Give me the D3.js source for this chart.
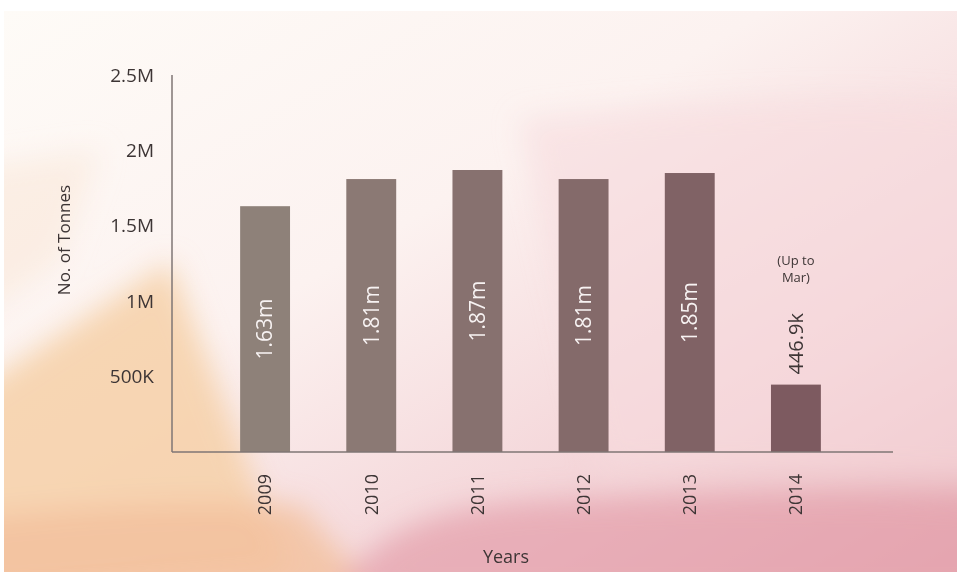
<!DOCTYPE html>
<html>
<head>
<meta charset="utf-8">
<script src="https://cdn.jsdelivr.net/npm/d3@7"></script>
<style>
  body { margin: 0; background: #fff; }
  svg { display: block; }
  text { font-family: "Open Sans", "Noto Sans", sans-serif; }
</style>
</head>
<body>
<svg id="chart"></svg>
<script>
// chart data
var years = ["2009", "2010", "2011", "2012", "2013", "2014"];
var tonnes = [1630000, 1810000, 1870000, 1810000, 1850000, 446900];
var valueLabels = ["1.63m", "1.81m", "1.87m", "1.81m", "1.85m", "446.9k"];
var yTicks = [500000, 1000000, 1500000, 2000000, 2500000];
var yTickLabels = ["500K", "1M", "1.5M", "2M", "2.5M"];
var partialNote = ["(Up to", "Mar)"];

// set the dimensions and margins of the graph
var margin = {top: 75, right: 64, bottom: 120, left: 172},
    width = 957 - margin.left - margin.right,
    height = 572 - margin.top - margin.bottom;

var svg = d3.select("#chart")
    .attr("width", 957)
    .attr("height", 572);

// background wash
var defs = svg.append("defs");
var bg = defs.append("linearGradient").attr("id", "bg")
    .attr("x1", 0).attr("y1", 0).attr("x2", 1).attr("y2", 1);
bg.append("stop").attr("offset", 0).attr("stop-color", "#fefbf7");
bg.append("stop").attr("offset", 0.4).attr("stop-color", "#fcf2f0");
bg.append("stop").attr("offset", 0.75).attr("stop-color", "#f3d2d6");
bg.append("stop").attr("offset", 1).attr("stop-color", "#e6aeb6");
defs.append("filter").attr("id", "soft")
    .attr("x", "-20%").attr("y", "-20%").attr("width", "140%").attr("height", "140%")
  .append("feGaussianBlur").attr("stdDeviation", 14);
defs.append("clipPath").attr("id", "pageclip")
  .append("rect").attr("x", 4).attr("y", 11).attr("width", 953).attr("height", 561);

var back = svg.append("g").attr("clip-path", "url(#pageclip)");
back.append("rect").attr("x", 4).attr("y", 11).attr("width", 953).attr("height", 561)
    .attr("fill", "url(#bg)");
var blobs = back.append("g").attr("filter", "url(#soft)");
blobs.append("path")
    .attr("d", "M-40,170 L100,150 L60,260 L-40,330 Z")
    .attr("fill", "#fae8d8").attr("opacity", 0.6);
blobs.append("path")
    .attr("d", "M-40,400 L170,262 L290,572 L-40,600 Z")
    .attr("fill", "#f6d0a8").attr("opacity", 0.85);
blobs.append("path")
    .attr("d", "M-40,520 C100,505 200,500 300,505 L380,600 L-40,600 Z")
    .attr("fill", "#f3c09c").attr("opacity", 0.8);
blobs.append("path")
    .attr("d", "M330,600 C380,520 450,505 560,500 C700,495 850,490 1000,500 L1000,600 Z")
    .attr("fill", "#e4a2ad").attr("opacity", 0.75);
blobs.append("path")
    .attr("d", "M520,120 C700,100 900,90 1000,110 L1000,480 L600,470 Z")
    .attr("fill", "#f6dade").attr("opacity", 0.6);

var g = svg.append("g")
    .attr("transform", "translate(" + margin.left + "," + margin.top + ")");

// set the ranges
var x = d3.scaleBand()
    .domain(years)
    .range([40, 677])
    .paddingInner(0.53)
    .paddingOuter(0.265);
var y = d3.scaleLinear()
    .domain([0, 2500000])
    .range([height, 0]);
var barColor = d3.scaleLinear()
    .domain([0, years.length - 1])
    .range(["#8e8179", "#7d5a60"]);

// bars
g.selectAll(".bar")
    .data(years)
  .enter().append("rect")
    .attr("class", "bar")
    .attr("x", function(d) { return x(d); })
    .attr("width", x.bandwidth())
    .attr("y", function(d, i) { return y(tonnes[i]); })
    .attr("height", function(d, i) { return height - y(tonnes[i]); })
    .attr("fill", function(d, i) { return barColor(i); });

// value labels: inside the tall bars, above the short one
g.selectAll(".val")
    .data(years)
  .enter().append("text")
    .attr("class", "val")
    .attr("transform", function(d, i) {
      var inside = tonnes[i] > 1000000;
      var cy = inside ? (y(tonnes[i]) + height) / 2 : y(tonnes[i]) - 10;
      return "translate(" + (x(d) + x.bandwidth() / 2) + "," + cy + ") rotate(-90)";
    })
    .attr("dy", "0.35em")
    .attr("text-anchor", function(d, i) { return tonnes[i] > 1000000 ? "middle" : "start"; })
    .attr("fill", function(d, i) { return tonnes[i] > 1000000 ? "#f7f2f2" : "#3d3535"; })
    .style("font-size", function(d, i) { return tonnes[i] > 1000000 ? "21px" : "20px"; })
    .text(function(d, i) { return valueLabels[i]; });

// note above the partial year
var last = years[years.length - 1];
g.append("text")
    .attr("x", x(last) + x.bandwidth() / 2)
    .attr("y", y(tonnes[tonnes.length - 1]) - 120)
    .attr("text-anchor", "middle")
    .attr("fill", "#3d3535")
    .style("font-size", "13px")
  .selectAll("tspan")
    .data(partialNote)
  .enter().append("tspan")
    .attr("x", x(last) + x.bandwidth() / 2)
    .attr("dy", function(d, i) { return i ? "1.3em" : 0; })
    .text(function(d) { return d; });

// Add the X Axis
var xAxis = g.append("g")
    .attr("transform", "translate(0," + height + ")")
    .call(d3.axisBottom(x).tickSize(0).tickPadding(0));
xAxis.select(".domain").attr("d", "M0,0H" + width)
    .attr("stroke", "#7f7675").attr("stroke-width", 1.5);
xAxis.selectAll("text")
    .attr("transform", "rotate(-90)")
    .attr("x", -22)
    .attr("y", 0)
    .attr("dy", "0.35em")
    .attr("text-anchor", "end")
    .attr("fill", "#3d3535")
    .style("font-size", "18px");

// Add the Y Axis
var yAxis = g.append("g")
    .call(d3.axisLeft(y).tickValues(yTicks).tickSize(0).tickPadding(18)
      .tickFormat(function(d, i) { return yTickLabels[i]; }));
yAxis.select(".domain").attr("d", "M0,0V" + height)
    .attr("stroke", "#7f7675").attr("stroke-width", 1.5);
yAxis.selectAll("text")
    .attr("fill", "#3d3535")
    .style("font-size", "19px");

// axis titles
svg.append("text")
    .attr("transform", "translate(70,240) rotate(-90)")
    .attr("text-anchor", "middle")
    .attr("fill", "#3d3535")
    .style("font-size", "17px")
    .text("No. of Tonnes");
svg.append("text")
    .attr("x", 506)
    .attr("y", 563)
    .attr("text-anchor", "middle")
    .attr("fill", "#3d3535")
    .style("font-size", "18px")
    .text("Years");
</script>
</body>
</html>
